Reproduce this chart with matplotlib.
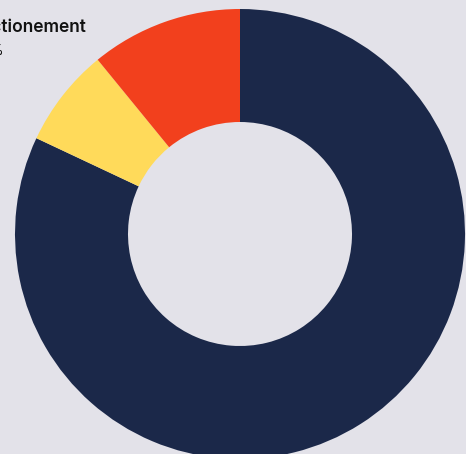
import matplotlib
matplotlib.use("Agg")
import matplotlib.pyplot as plt

labels = ["Fonctionnement courant", "Autre", "Fonctionement"]
values = [82.0, 7.1, 10.9]
colors = ["#1B2849", "#FFDA5A", "#F2401D"]

BG = "#E3E2E9"

fig = plt.figure(figsize=(4.66, 4.54), dpi=100, facecolor=BG)
ax = fig.add_axes([0, 0, 1, 1])
ax.set_facecolor(BG)

ax.pie(values, colors=colors, startangle=90, counterclock=False,
       center=(240, 220), radius=225,
       wedgeprops=dict(width=113, edgecolor="none"))

# pie() resets the limits, so set them afterwards
ax.set_xlim(0, 466)
ax.set_ylim(0, 454)
ax.set_aspect("equal")
ax.axis("off")

# tooltip partly outside the canvas
ax.text(87, 427, "Fonctionement", ha="right", va="center",
        fontsize=12.5, family=["Inter", "DejaVu Sans"], fontweight="semibold",
        color="#111111")
ax.text(3, 403, "%", ha="right", va="center",
        fontsize=10, family=["Inter", "DejaVu Sans"], color="#111111")

fig.savefig("out.png", dpi=100, facecolor=BG)
